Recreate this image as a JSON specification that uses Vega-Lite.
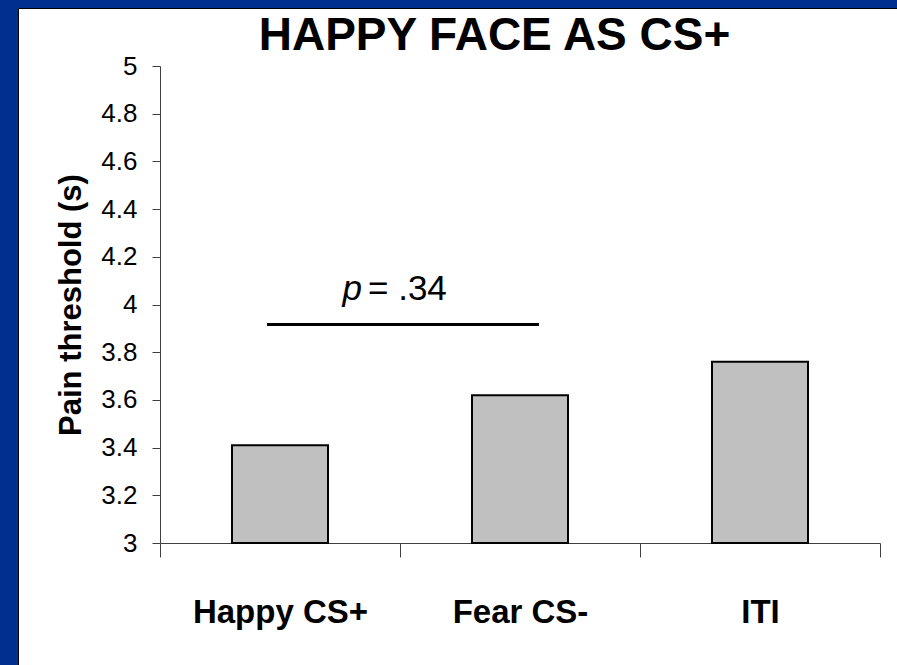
{
  "$schema": "https://vega.github.io/schema/vega-lite/v6.json",
  "width": 879,
  "height": 657,
  "autosize": {"type": "none"},
  "padding": {"left": 18, "top": 8, "right": 0, "bottom": 0},
  "background": "#00308F",
  "config": {
    "view": {"fill": "white", "stroke": "black", "strokeWidth": 1},
    "font": "Liberation Sans"
  },
  "title": {
    "text": "HAPPY FACE AS CS+",
    "fontSize": 46,
    "fontWeight": "bold",
    "color": "black",
    "anchor": "middle",
    "frame": "group",
    "baseline": "alphabetic",
    "offset": -88,
    "dx": 37
  },
  "data": {
    "values": [
      {"condition": "Happy CS+", "threshold": 3.41},
      {"condition": "Fear CS-", "threshold": 3.62},
      {"condition": "ITI", "threshold": 3.76}
    ]
  },
  "layer": [
    {
      "mark": {"type": "bar", "fill": "#C0C0C0", "stroke": "black", "strokeWidth": 2, "width": {"band": 0.4}},
      "encoding": {
        "x": {
          "field": "condition",
          "type": "nominal",
          "sort": null,
          "scale": {"range": [142, 862], "paddingInner": 0, "paddingOuter": 0},
          "axis": {
            "title": null,
            "labelFontSize": 33,
            "labelFontWeight": "bold",
            "labelColor": "black",
            "labelAngle": 0,
            "tickBand": "extent",
            "tickSize": 14,
            "labelPadding": 65,
            "labelBaseline": "alphabetic",
            "offset": -122,
            "domainColor": "#404040",
            "tickColor": "#404040",
            "grid": false
          }
        },
        "y": {
          "field": "threshold",
          "type": "quantitative",
          "scale": {"domain": [3, 5], "range": [535, 58], "zero": false, "nice": false},
          "axis": {
            "title": "Pain threshold (s)",
            "values": [3, 3.2, 3.4, 3.6, 3.8, 4, 4.2, 4.4, 4.6, 4.8, 5],
            "format": "~g",
            "labelFontSize": 26,
            "labelColor": "black",
            "labelPadding": 15,
            "tickSize": 8,
            "tickColor": "#404040",
            "domainColor": "#404040",
            "grid": false,
            "titleFontSize": 31,
            "titleFontWeight": "bold",
            "titleColor": "black",
            "titlePadding": 13,
            "offset": -142
          }
        },
        "y2": {"datum": 3}
      }
    },
    {
      "data": {"values": [{"comparison": "Happy CS+ vs Fear CS-"}]},
      "mark": {"type": "rule", "strokeWidth": 3, "color": "black"},
      "encoding": {
        "x": {"datum": 0.446, "type": "quantitative", "scale": {"domain": [0, 3], "range": [142, 862]}, "axis": null},
        "x2": {"datum": 1.579},
        "y": {"datum": 3.916, "type": "quantitative"}
      }
    },
    {
      "data": {"values": [{"label": "p"}]},
      "mark": {"type": "text", "fontSize": 35, "fontStyle": "italic", "align": "right", "baseline": "alphabetic", "color": "black"},
      "encoding": {
        "x": {"datum": 0.842, "type": "quantitative", "scale": {"domain": [0, 3], "range": [142, 862]}, "axis": null},
        "y": {"datum": 4.019, "type": "quantitative"},
        "text": {"field": "label"}
      }
    },
    {
      "data": {"values": [{"label": "= .34"}]},
      "mark": {"type": "text", "fontSize": 35, "align": "left", "baseline": "alphabetic", "color": "black"},
      "encoding": {
        "x": {"datum": 0.8667, "type": "quantitative", "scale": {"domain": [0, 3], "range": [142, 862]}, "axis": null},
        "y": {"datum": 4.019, "type": "quantitative"},
        "text": {"field": "label"}
      }
    }
  ],
  "resolve": {"scale": {"x": "independent"}}
}
